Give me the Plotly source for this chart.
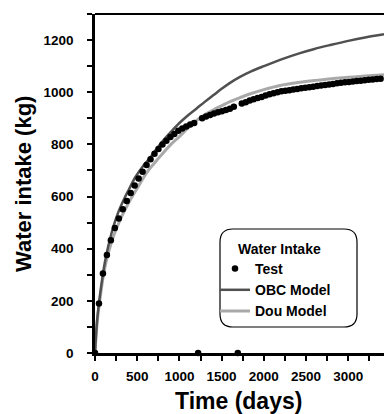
import plotly.graph_objects as go

# Test data (days, kg)
test_t = [0, 47, 94, 141, 188, 235, 282, 329, 376, 423, 470, 517, 564, 611, 658, 705, 752, 799,
          846, 893, 940, 987, 1034, 1081, 1128, 1175, 1222, 1269, 1316, 1363, 1410, 1457, 1504,
          1551, 1598, 1645, 1692, 1739, 1786, 1833, 1880, 1927, 1974, 2021, 2068, 2115, 2162,
          2209, 2256, 2303, 2350, 2397, 2444, 2491, 2538, 2585, 2632, 2679, 2726, 2773, 2820,
          2867, 2914, 2961, 3008, 3055, 3102, 3149, 3196, 3243, 3290, 3337, 3384]
test_v = [0, 190, 305, 376, 432, 479, 516, 551, 583, 614, 642, 669, 695, 721, 743, 764, 782, 800,
          814, 828, 840, 852, 861, 869, 876, 882, 0, 900, 907, 913, 918, 923, 927,
          932, 937, 944, 0, 957, 962, 968, 973, 978, 982, 987, 992, 996, 1000,
          1004, 1006, 1008, 1010, 1012, 1015, 1017, 1019, 1021, 1024, 1026, 1028, 1030, 1032,
          1034, 1036, 1038, 1039, 1041, 1043, 1044, 1046, 1048, 1049, 1051, 1052]

# OBC model
obc_t = [0, 25, 59, 118, 200, 276, 350, 400, 474, 572, 651, 700, 800, 900, 1000, 1100, 1204,
         1300, 1400, 1500, 1600, 1718, 1850, 2000, 2200, 2429, 2600, 2800, 3000, 3200, 3424]
obc_v = [0, 125, 222, 350, 465, 540, 594, 626, 672, 718, 748, 770, 812, 848, 882, 911, 938,
         963, 988, 1013, 1036, 1059, 1080, 1100, 1125, 1150, 1166, 1182, 1197, 1210, 1222]

# Dou model
dou_t = [0, 25, 59, 118, 200, 300, 400, 500, 611, 700, 809, 900, 1000, 1100, 1204, 1300, 1400,
         1500, 1600, 1718, 1850, 2000, 2192, 2400, 2600, 2800, 3000, 3200, 3424]
dou_v = [0, 115, 208, 330, 430, 512, 577, 632, 691, 727, 768, 800, 830, 862, 892, 914, 932,
         948, 964, 979, 995, 1010, 1026, 1037, 1045, 1052, 1057, 1062, 1067]

FONT = "Liberation Sans, Arial, sans-serif"
W, H = 384, 414

fig = go.Figure()
fig.add_trace(go.Scatter(x=dou_t, y=dou_v, mode="lines", name="Dou Model",
                         line=dict(color="#a9a9a9", width=3, shape="spline"), legendrank=3))
fig.add_trace(go.Scatter(x=obc_t, y=obc_v, mode="lines", name="OBC Model",
                         line=dict(color="#505050", width=2.5, shape="spline"), legendrank=2))
fig.add_trace(go.Scatter(x=test_t, y=test_v, mode="markers", name="Test",
                         marker=dict(color="black", size=6.5), cliponaxis=False, legendrank=1))

pw, ph = 384 - 95, 339
def px(xp):
    return (xp - 95) / pw
def py(yp):
    return (353 - yp) / ph

fig.update_layout(
    width=W, height=H,
    margin=dict(l=95, r=0, t=14, b=H - 353),
    paper_bgcolor="white", plot_bgcolor="white",
    font=dict(family=FONT, color="black"),
    showlegend=True,
    legend=dict(x=px(215), y=py(253), xanchor="left", yanchor="top",
                bgcolor="rgba(0,0,0,0)", borderwidth=0,
                font=dict(family=FONT, size=14, color="black", weight="bold"),
                tracegroupgap=0, itemwidth=30),
    xaxis=dict(range=[0, 3424], showgrid=False, zeroline=False, automargin=False,
               showline=True, linecolor="black", linewidth=2.5, mirror=False,
               ticks="outside", ticklen=5, tickwidth=1.5, tickcolor="black",
               tick0=0, dtick=500,
               minor=dict(ticks="outside", ticklen=5, tickwidth=1.5, tickcolor="black", dtick=250),
               tickfont=dict(family=FONT, size=13.5, color="black", weight="bold"),
               ticklabelstandoff=4),
    yaxis=dict(range=[0, 1300], showgrid=False, zeroline=False, automargin=False,
               showline=True, linecolor="black", linewidth=2.5,
               ticks="outside", ticklen=5, tickwidth=1.5, tickcolor="black",
               tick0=0, dtick=200,
               minor=dict(ticks="outside", ticklen=5, tickwidth=1.5, tickcolor="black", dtick=100),
               tickfont=dict(family=FONT, size=13.5, color="black", weight="bold"),
               ticklabelstandoff=11),
)

# axis titles
fig.add_annotation(xref="paper", yref="paper", x=px(238), y=py(401), xanchor="center",
                   yanchor="middle", showarrow=False, text="<b>Time (days)</b>",
                   font=dict(family=FONT, size=23, color="black"))
fig.add_annotation(xref="paper", yref="paper", x=px(23), y=py(184), xanchor="center",
                   yanchor="middle", showarrow=False, text="<b>Water intake (kg)</b>",
                   textangle=-90, font=dict(family=FONT, size=22, color="black"))

# top frame line
fig.add_shape(type="line", xref="paper", yref="paper", x0=0, x1=1, y0=1, y1=1,
              line=dict(color="black", width=2))

# rounded legend box
x0, x1, y0, y1, r = 220, 357, 229, 327, 13
path = (f"M {px(x0 + r)} {py(y0)} L {px(x1 - r)} {py(y0)} "
        f"Q {px(x1)} {py(y0)} {px(x1)} {py(y0 + r)} L {px(x1)} {py(y1 - r)} "
        f"Q {px(x1)} {py(y1)} {px(x1 - r)} {py(y1)} L {px(x0 + r)} {py(y1)} "
        f"Q {px(x0)} {py(y1)} {px(x0)} {py(y1 - r)} L {px(x0)} {py(y0 + r)} "
        f"Q {px(x0)} {py(y0)} {px(x0 + r)} {py(y0)} Z")
fig.add_shape(type="path", xref="paper", yref="paper", path=path,
              line=dict(color="black", width=1.2), fillcolor="rgba(0,0,0,0)")

fig.add_annotation(xref="paper", yref="paper", x=px(236), y=py(249), xanchor="left",
                   yanchor="middle", showarrow=False, text="<b>Water Intake</b>",
                   font=dict(family=FONT, size=14, color="black"))

fig.write_html("out.html", config={"displayModeBar": False},
               post_script="document.body.style.margin='0';document.body.style.overflow='hidden';")
